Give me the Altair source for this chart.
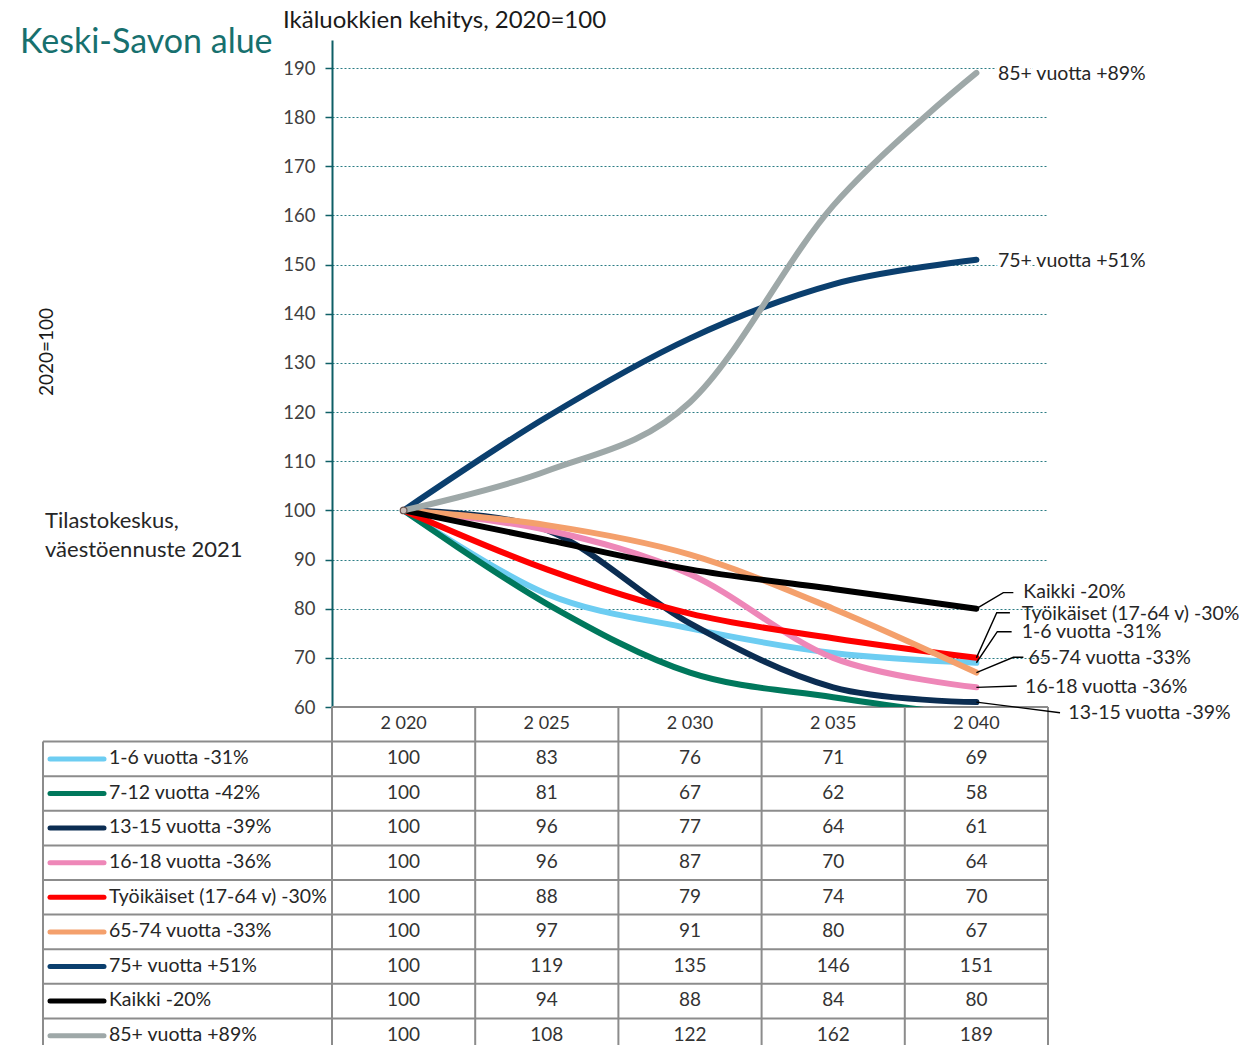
import altair as alt
import pandas as pd

# ---------------- data ----------------
years = [2020, 2025, 2030, 2035, 2040]
year_labels = ["2 020", "2 025", "2 030", "2 035", "2 040"]
series = ["1-6 vuotta -31%", "7-12 vuotta -42%", "13-15 vuotta -39%", "16-18 vuotta -36%",
          "Työikäiset (17-64 v) -30%", "65-74 vuotta -33%", "75+ vuotta +51%", "Kaikki -20%",
          "85+ vuotta +89%"]
v_1_6 = [100, 83, 76, 71, 69]
v_7_12 = [100, 81, 67, 62, 58]
v_13_15 = [100, 96, 77, 64, 61]
v_16_18 = [100, 96, 87, 70, 64]
v_tyoik = [100, 88, 79, 74, 70]
v_65_74 = [100, 97, 91, 80, 67]
v_75 = [100, 119, 135, 146, 151]
v_kaikki = [100, 94, 88, 84, 80]
v_85 = [100, 108, 122, 162, 189]
values = [v_1_6, v_7_12, v_13_15, v_16_18, v_tyoik, v_65_74, v_75, v_kaikki, v_85]
colors = ["#6DCDF2", "#00785C", "#0B2D52", "#EE87B8", "#FF0000", "#F4A06C", "#0B3F6E", "#000000", "#9EA8A8"]

# end-label layout (x in year units, y in index units)
lab_series = ["85+ vuotta +89%", "75+ vuotta +51%", "Kaikki -20%", "Työikäiset (17-64 v) -30%",
              "1-6 vuotta -31%", "65-74 vuotta -33%", "16-18 vuotta -36%", "13-15 vuotta -39%"]
lab_leader = [False, False, True, True, True, True, True, True]
lab_elbow_x = [None, None, 2040.94, 2040.71, 2040.73, 2041.29, 2041.41, 2042.92]
lab_elbow_y = [None, None, 83.26, 79.19, 75.32, 70.11, 64.27, 58.84]
lab_end_x = [None, None, 2041.29, 2041.17, 2041.23, 2041.64, 2041.41, 2042.92]
lab_text_x = [2040.75, 2040.75, 2041.64, 2041.58, 2041.58, 2041.82, 2041.70, 2043.21]
lab_text_y = [188.8, 150.7, 83.3, 79.0, 75.2, 70.0, 64.1, 58.78]

# ---------------- layout ----------------
W, H = 716, 667
ROW_H = 34.6
FONT = "Lato"
TXT = "#262626"
GRID = "#2B7C84"
AXIS = "#0E5F66"
BORDER = "#8C8C8C"

# ---------------- frames ----------------
rows_long = []
for s, vals in zip(series, values):
    for yr, v in zip(years, vals):
        rows_long.append({"series": s, "year": yr, "value": v, "label": str(v)})
df = pd.DataFrame(rows_long)

lead_rows = []
lab_rows = []
for i, s in enumerate(lab_series):
    end_val = values[series.index(s)][-1]
    lab_rows.append({"series": s, "year": lab_text_x[i], "value": lab_text_y[i], "label": s,
                     "halo": not lab_leader[i]})
    if lab_leader[i]:
        lead_rows.append({"series": s, "pt": 0, "year": years[-1], "value": end_val})
        lead_rows.append({"series": s, "pt": 1, "year": lab_elbow_x[i], "value": lab_elbow_y[i]})
        lead_rows.append({"series": s, "pt": 2, "year": lab_end_x[i], "value": lab_elbow_y[i]})
df_lead = pd.DataFrame(lead_rows)
df_lab = pd.DataFrame(lab_rows)

xscale = alt.Scale(domain=[2017.5, 2042.5], nice=False, zero=False)
yscale = alt.Scale(domain=[60, 195.7], nice=False, zero=False)
cscale = alt.Scale(domain=series, range=colors)

X = alt.X("year:Q", scale=xscale, axis=None, title=None)

lines = alt.Chart(df).mark_line(interpolate="cardinal", strokeWidth=6, strokeCap="round",
                                 strokeJoin="round", clip=True).encode(
    x=X,
    y=alt.Y("value:Q", scale=yscale, title=None,
            axis=alt.Axis(values=list(range(60, 200, 10)), domainColor=AXIS, domainWidth=2,
                          tickColor=AXIS, tickSize=7, tickWidth=1.5, labelFont=FONT,
                          labelFontSize=18.5, labelColor="#404040", labelPadding=10,
                          grid=True, gridColor=GRID, gridDash=[2, 2], gridWidth=1)),
    color=alt.Color("series:N", scale=cscale, legend=None),
    order="year:Q",
)

start = alt.Chart(df[df["year"] == years[0]].head(1)).mark_point(
    filled=True, size=45, fill="#c9bfbb", stroke="#6b5550", strokeWidth=1.2, opacity=1).encode(
    x=X, y=alt.Y("value:Q", scale=yscale, title=None))

leaders = alt.Chart(df_lead).mark_line(color="#000000", strokeWidth=1.4, clip=False).encode(
    x=X, y=alt.Y("value:Q", scale=yscale, title=None), detail="series:N", order="pt:Q")

halo = alt.Chart(df_lab[df_lab["halo"]]).mark_text(
    align="left", baseline="middle", font=FONT, fontSize=19.5, stroke="white", strokeWidth=7,
    color="white", clip=False).encode(
    x=X, y=alt.Y("value:Q", scale=yscale, title=None), text="label:N")

end_labels = alt.Chart(df_lab).mark_text(
    align="left", baseline="middle", font=FONT, fontSize=19.5, color=TXT, clip=False).encode(
    x=X, y=alt.Y("value:Q", scale=yscale, title=None), text="label:N")

value_layer = alt.layer(lines, leaders, start, halo, end_labels)

# ---------------- table ----------------
row_dom = ["header"] + series
tscale = alt.Scale(type="band", domain=row_dom, range=[H, H + len(row_dom) * ROW_H],
                   paddingInner=0, paddingOuter=0)


def TY(band_pos):
    return alt.Y("row:N", scale=tscale, axis=None, title=None, bandPosition=band_pos)


df_cells = pd.DataFrame([{"row": r["series"], "year": r["year"], "label": r["label"]} for r in rows_long])
df_head = pd.DataFrame({"row": ["header"] * len(years), "year": years, "label": year_labels})
df_rows = pd.DataFrame({"row": series, "series": series})
df_vb = pd.DataFrame({"year": [years[0] - 2.5] + [y + 2.5 for y in years]})

cells = alt.Chart(df_cells).mark_text(font=FONT, fontSize=19, color="#333333", baseline="middle").encode(
    x=X, y=TY(0.48), text="label:N")
head = alt.Chart(df_head).mark_text(font=FONT, fontSize=18, color="#333333", baseline="middle").encode(
    x=X, y=TY(0.5), text="label:N")
hlines = alt.Chart(df_rows).mark_rule(color=BORDER, strokeWidth=2).encode(
    y=TY(0), x=alt.value(-289), x2=alt.value(W))
htop = alt.Chart(df_head.head(1)).mark_rule(color=BORDER, strokeWidth=2).encode(
    y=TY(0), x=alt.value(0), x2=alt.value(W))
vlines = alt.Chart(df_vb).mark_rule(color=BORDER, strokeWidth=2).encode(
    x=X, y=alt.value(H), y2=alt.value(H + len(row_dom) * ROW_H))
vleft = alt.Chart(df_head.head(1)).mark_rule(color=BORDER, strokeWidth=2).encode(
    x=alt.value(-289), y=alt.value(H + ROW_H), y2=alt.value(H + len(row_dom) * ROW_H))
swatch = alt.Chart(df_rows).mark_rule(strokeWidth=5, strokeCap="round").encode(
    y=TY(0.5), x=alt.value(-282), x2=alt.value(-228),
    color=alt.Color("series:N", scale=cscale, legend=None))
rowtxt = alt.Chart(df_rows).mark_text(font=FONT, fontSize=19.5, color=TXT, align="left",
                                      baseline="middle").encode(
    y=TY(0.48), x=alt.value(-223), text="series:N")

table_layer = alt.layer(hlines, htop, vlines, vleft, swatch, rowtxt, cells, head)

# ---------------- free texts ----------------
ann = pd.DataFrame({"k": [0]})
t_region = alt.Chart(ann).mark_text(text="Keski-Savon alue", font=FONT, fontSize=34, color="#17706E",
                                    align="left", baseline="middle").encode(
    x=alt.value(-312), y=alt.value(3))
t_title = alt.Chart(ann).mark_text(text="Ikäluokkien kehitys, 2020=100", font=FONT, fontSize=24,
                                   color="#1a1a1a", align="left", baseline="middle").encode(
    x=alt.value(-49), y=alt.value(-19))
t_ytitle = alt.Chart(ann).mark_text(text="2020=100", font=FONT, fontSize=19, color="#1a1a1a",
                                    angle=270, align="center", baseline="middle").encode(
    x=alt.value(-285), y=alt.value(312))
t_src = alt.Chart(ann).mark_text(text=["Tilastokeskus,", "väestöennuste 2021"], font=FONT, fontSize=22,
                                 color=TXT, align="left", baseline="middle", lineHeight=29).encode(
    x=alt.value(-287), y=alt.value(481))

text_layer = alt.layer(t_region, t_title, t_ytitle, t_src)

chart = alt.layer(table_layer, value_layer, text_layer).resolve_scale(y="independent").properties(
    width=W, height=H,
    autosize=alt.AutoSizeParams(type="none"),
    padding={"left": 324, "top": 32, "right": 191, "bottom": 338},
).configure_view(stroke=None)

chart.save("out.html", embed_options={"renderer": "svg", "actions": False})
